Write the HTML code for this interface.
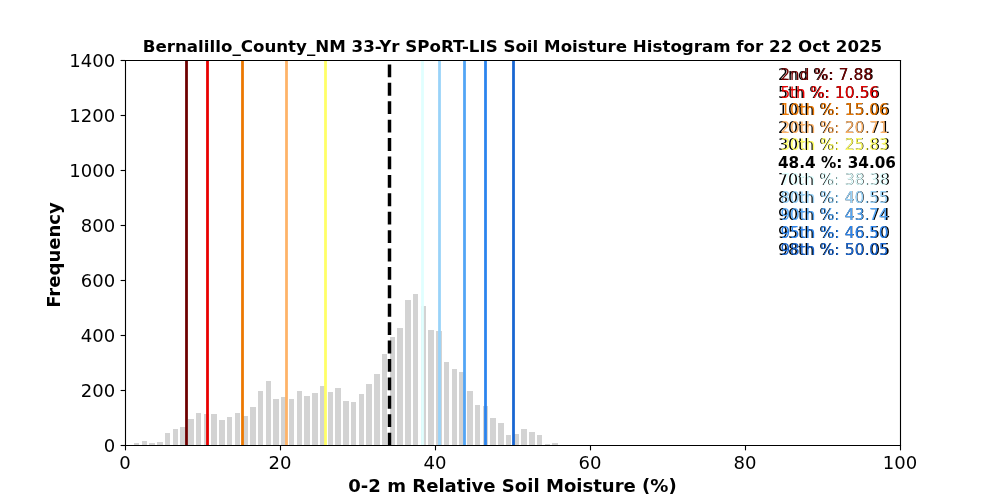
<!DOCTYPE html>
<html><head><meta charset="utf-8"><title>Bernalillo_County_NM Soil Moisture Histogram</title>
<style>
html,body{margin:0;padding:0;background:#fff;width:1000px;height:500px;overflow:hidden}
svg{display:block;will-change:transform}
text{font-family:"DejaVu Sans","Liberation Sans",sans-serif}
.b{font-weight:bold}
</style></head><body>
<svg width="1000" height="500" viewBox="0 0 1000 500">
<rect x="0" y="0" width="1000" height="500" fill="#fff"/>
<g fill="#d3d3d3" shape-rendering="crispEdges">
<rect x="134" y="443" width="5" height="2"/>
<rect x="142" y="441" width="5" height="4"/>
<rect x="149" y="443" width="6" height="2"/>
<rect x="157" y="442" width="6" height="3"/>
<rect x="165" y="433" width="5" height="12"/>
<rect x="173" y="429" width="5" height="16"/>
<rect x="180" y="427" width="6" height="18"/>
<rect x="188" y="419" width="6" height="26"/>
<rect x="196" y="413" width="5" height="32"/>
<rect x="204" y="414" width="5" height="31"/>
<rect x="211" y="414" width="6" height="31"/>
<rect x="219" y="420" width="6" height="25"/>
<rect x="227" y="417" width="5" height="28"/>
<rect x="235" y="413" width="5" height="32"/>
<rect x="242" y="416" width="6" height="29"/>
<rect x="250" y="407" width="6" height="38"/>
<rect x="258" y="391" width="5" height="54"/>
<rect x="266" y="381" width="5" height="64"/>
<rect x="273" y="399" width="6" height="46"/>
<rect x="281" y="397" width="6" height="48"/>
<rect x="289" y="399" width="5" height="46"/>
<rect x="297" y="391" width="5" height="54"/>
<rect x="304" y="396" width="6" height="49"/>
<rect x="312" y="393" width="6" height="52"/>
<rect x="320" y="386" width="5" height="59"/>
<rect x="328" y="392" width="5" height="53"/>
<rect x="335" y="388" width="6" height="57"/>
<rect x="343" y="401" width="6" height="44"/>
<rect x="351" y="402" width="5" height="43"/>
<rect x="359" y="394" width="5" height="51"/>
<rect x="366" y="384" width="6" height="61"/>
<rect x="374" y="374" width="6" height="71"/>
<rect x="382" y="354" width="5" height="91"/>
<rect x="390" y="337" width="5" height="108"/>
<rect x="397" y="328" width="6" height="117"/>
<rect x="405" y="300" width="6" height="145"/>
<rect x="413" y="294" width="5" height="151"/>
<rect x="421" y="306" width="5" height="139"/>
<rect x="428" y="330" width="6" height="115"/>
<rect x="436" y="331" width="6" height="114"/>
<rect x="444" y="362" width="5" height="83"/>
<rect x="452" y="369" width="5" height="76"/>
<rect x="459" y="372" width="6" height="73"/>
<rect x="467" y="391" width="6" height="54"/>
<rect x="475" y="405" width="5" height="40"/>
<rect x="483" y="406" width="5" height="39"/>
<rect x="490" y="418" width="6" height="27"/>
<rect x="498" y="423" width="6" height="22"/>
<rect x="506" y="435" width="5" height="10"/>
<rect x="514" y="434" width="5" height="11"/>
<rect x="521" y="429" width="6" height="16"/>
<rect x="529" y="432" width="6" height="13"/>
<rect x="537" y="435" width="5" height="10"/>
<rect x="545" y="444" width="5" height="1"/>
<rect x="552" y="443" width="6" height="2"/>
</g>
<g>
<line x1="186.5" y1="445" x2="186.5" y2="60" stroke="#6E0000" stroke-width="2.78"/>
<line x1="207.5" y1="445" x2="207.5" y2="60" stroke="#E90000" stroke-width="2.78"/>
<line x1="242.5" y1="445" x2="242.5" y2="60" stroke="#EC7800" stroke-width="2.78"/>
<line x1="286.5" y1="445" x2="286.5" y2="60" stroke="#FEB368" stroke-width="2.78"/>
<line x1="325.5" y1="445" x2="325.5" y2="60" stroke="#FFFF66" stroke-width="2.78"/>
<line x1="422.5" y1="445" x2="422.5" y2="60" stroke="#E0FFFF" stroke-width="2.78"/>
<line x1="439.5" y1="445" x2="439.5" y2="60" stroke="#99D3F9" stroke-width="2.78"/>
<line x1="464.5" y1="445" x2="464.5" y2="60" stroke="#52A5F5" stroke-width="2.78"/>
<line x1="485.5" y1="445" x2="485.5" y2="60" stroke="#2B84EE" stroke-width="2.78"/>
<line x1="513.5" y1="445" x2="513.5" y2="60" stroke="#1866D2" stroke-width="2.78"/>
<line x1="389.5" y1="445.5" x2="389.5" y2="60" stroke="#000" stroke-width="3.47" stroke-dasharray="12.85 5.56"/>
</g>
<g fill="none" stroke="#000" stroke-width="1.111" stroke-linecap="square">
<line x1="125.5" y1="445.5" x2="125.5" y2="60.5"/>
<line x1="900.5" y1="445.5" x2="900.5" y2="60.5"/>
<line x1="125.5" y1="445.5" x2="900.5" y2="445.5"/>
<line x1="125.5" y1="60.5" x2="900.5" y2="60.5"/>
</g>
<g stroke="#000" stroke-width="1.111">
<line x1="125.5" y1="445.5" x2="125.5" y2="450.3611111111111"/>
<line x1="280.5" y1="445.5" x2="280.5" y2="450.3611111111111"/>
<line x1="435.5" y1="445.5" x2="435.5" y2="450.3611111111111"/>
<line x1="590.5" y1="445.5" x2="590.5" y2="450.3611111111111"/>
<line x1="745.5" y1="445.5" x2="745.5" y2="450.3611111111111"/>
<line x1="900.5" y1="445.5" x2="900.5" y2="450.3611111111111"/>
<line x1="125.5" y1="445.5" x2="120.63888888888889" y2="445.5"/>
<line x1="125.5" y1="390.5" x2="120.63888888888889" y2="390.5"/>
<line x1="125.5" y1="335.5" x2="120.63888888888889" y2="335.5"/>
<line x1="125.5" y1="280.5" x2="120.63888888888889" y2="280.5"/>
<line x1="125.5" y1="225.5" x2="120.63888888888889" y2="225.5"/>
<line x1="125.5" y1="170.5" x2="120.63888888888889" y2="170.5"/>
<line x1="125.5" y1="115.5" x2="120.63888888888889" y2="115.5"/>
<line x1="125.5" y1="60.5" x2="120.63888888888889" y2="60.5"/>
</g>
<g font-size="18.056px">
<text x="125" y="469.44" text-anchor="middle">0</text>
<text x="280" y="469.44" text-anchor="middle">20</text>
<text x="435" y="469.44" text-anchor="middle">40</text>
<text x="590" y="469.44" text-anchor="middle">60</text>
<text x="745" y="469.44" text-anchor="middle">80</text>
<text x="900" y="469.44" text-anchor="middle">100</text>
<text x="115.28" y="451.86" text-anchor="end">0</text>
<text x="115.28" y="396.86" text-anchor="end">200</text>
<text x="115.28" y="341.86" text-anchor="end">400</text>
<text x="115.28" y="286.86" text-anchor="end">600</text>
<text x="115.28" y="231.86" text-anchor="end">800</text>
<text x="115.28" y="176.86" text-anchor="end">1000</text>
<text x="115.28" y="121.86" text-anchor="end">1200</text>
<text x="115.28" y="66.86" text-anchor="end">1400</text>
</g>
<text x="512.5" y="492.47" text-anchor="middle" class="b" font-size="18.056px">0-2 m Relative Soil Moisture (%)</text>
<text x="59.87" y="255" text-anchor="middle" class="b" font-size="18.056px" transform="rotate(-90 59.87 255)">Frequency</text>
<text x="512.5" y="51.67" text-anchor="middle" class="b" font-size="16.667px">Bernalillo_County_NM 33-Yr SPoRT-LIS Soil Moisture Histogram for 22 Oct 2025</text>
<g font-size="15.278px">
<text x="777.9" y="79.9" font-size="15.843px">2nd %: 7.88</text>
<text x="780.4" y="79.9" fill="#6E0000">2nd %: 7.88</text>
<text x="777.9" y="97.9" font-size="15.843px">5th %: 10.56</text>
<text x="780.4" y="97.9" fill="#E90000">5th %: 10.56</text>
<text x="777.9" y="114.9" font-size="15.843px">10th %: 15.06</text>
<text x="780.4" y="114.9" fill="#EC7800">10th %: 15.06</text>
<text x="777.9" y="132.9" font-size="15.843px">20th %: 20.71</text>
<text x="780.4" y="132.9" fill="#FEB368">20th %: 20.71</text>
<text x="777.9" y="149.9" font-size="15.843px">30th %: 25.83</text>
<text x="780.4" y="149.9" fill="#FFFF66">30th %: 25.83</text>
<text x="778" y="167.9" class="b">48.4 %: 34.06</text>
<text x="777.9" y="184.9" font-size="15.843px">70th %: 38.38</text>
<text x="780.4" y="184.9" fill="#E0FFFF">70th %: 38.38</text>
<text x="777.9" y="202.9" font-size="15.843px">80th %: 40.55</text>
<text x="780.4" y="202.9" fill="#99D3F9">80th %: 40.55</text>
<text x="777.9" y="219.9" font-size="15.843px">90th %: 43.74</text>
<text x="780.4" y="219.9" fill="#52A5F5">90th %: 43.74</text>
<text x="777.9" y="237.9" font-size="15.843px">95th %: 46.50</text>
<text x="780.4" y="237.9" fill="#2B84EE">95th %: 46.50</text>
<text x="777.9" y="254.9" font-size="15.843px">98th %: 50.05</text>
<text x="780.4" y="254.9" fill="#1866D2">98th %: 50.05</text>
</g>
</svg>
</body></html>
